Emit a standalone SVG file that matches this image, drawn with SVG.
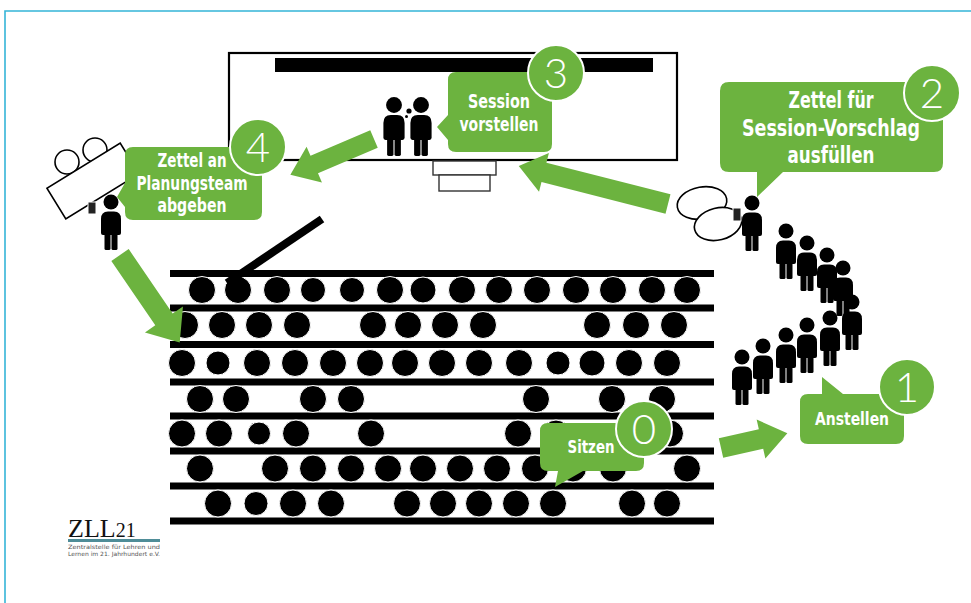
<svg xmlns="http://www.w3.org/2000/svg" xmlns:xlink="http://www.w3.org/1999/xlink" width="971" height="603" viewBox="0 0 971 603">
  <style>
    .bar { fill: #000; }
    .seat { fill: #000; stroke: #fff; stroke-width: 1; }
    .outline { fill: #fff; stroke: #000; stroke-width: 1.6; }
    .arrow { fill: #6cb33f; }
    .bubble { fill: #6cb33f; }
    .label { fill: #fff; font-family: 'Liberation Sans Narrow', 'DejaVu Sans Condensed', sans-serif; font-weight: bold; font-stretch: condensed; text-anchor: middle; }
    .badge { fill: #6cb33f; stroke: #fff; stroke-width: 2; }
    .num { fill: #fff; font-family: Lato, 'Open Sans', 'DejaVu Sans', sans-serif; font-weight: 300; font-size: 42px; text-anchor: middle; }
    .paper { fill: #222; stroke: #fff; stroke-width: 1; }
  </style>
  <defs>
    <!-- standing person, head centre at origin, feet at y=48 -->
    <g id="person">
      <circle cx="0" cy="0" r="7.5"/>
      <path d="M-10,31 V17 Q-10,9.5 -3,9.5 H3 Q10,9.5 10,17 V31 Q10,33 8,33 H-8 Q-10,33 -10,31 Z"/>
      <rect x="-6.5" y="29" width="6" height="19" rx="1.5"/>
      <rect x="0.5" y="29" width="6" height="19" rx="1.5"/>
    </g>
  </defs>

  <rect width="971" height="603" fill="#fff"/>
  <!-- frame -->
  <path d="M5,603 V11 H971" fill="none" stroke="#35b5d8" stroke-width="1.6"/>

  <!-- stage -->
  <g id="stage">
    <rect x="229" y="53" width="448" height="107" fill="#fff" stroke="#000" stroke-width="2.2"/>
    <rect x="275" y="58" width="378" height="14" fill="#000"/>
    <rect x="433" y="161" width="63" height="14" fill="#fff" stroke="#333" stroke-width="1.4"/>
    <rect x="439" y="175" width="51" height="16" fill="#fff" stroke="#333" stroke-width="1.4"/>
  </g>

  <!-- seating rows -->
  <g id="seating">
    <rect class="bar" x="170" y="270" width="544" height="7"/>
    <rect class="bar" x="170" y="304.5" width="544" height="7"/>
    <rect class="bar" x="170" y="341" width="544" height="7"/>
    <rect class="bar" x="170" y="378.5" width="544" height="7"/>
    <rect class="bar" x="170" y="412.5" width="544" height="7"/>
    <rect class="bar" x="170" y="447.5" width="544" height="7"/>
    <rect class="bar" x="170" y="482.5" width="544" height="7"/>
    <rect class="bar" x="170" y="517.5" width="544" height="7"/>
    <!-- row 1 -->
    <g class="seat">
      <circle cx="202" cy="290" r="13.5"/><circle cx="238" cy="290" r="13.5"/><circle cx="277" cy="290" r="13.5"/>
      <circle cx="313" cy="290" r="12.5"/><circle cx="352" cy="290" r="12.5"/><circle cx="390" cy="290" r="13.5"/>
      <circle cx="423" cy="290" r="13"/><circle cx="462" cy="290" r="13.5"/><circle cx="499" cy="290" r="13.5"/>
      <circle cx="537" cy="290" r="13.5"/><circle cx="576" cy="290" r="13.5"/><circle cx="613" cy="290" r="13.5"/>
      <circle cx="652" cy="290" r="13.5"/><circle cx="687" cy="290" r="13.5"/>
    </g>
    <!-- row 2 -->
    <g class="seat">
      <circle cx="185" cy="325" r="13.5"/><circle cx="222" cy="325" r="13.5"/><circle cx="259" cy="325" r="13.5"/>
      <circle cx="297" cy="325" r="13.5"/><circle cx="373" cy="325" r="13.5"/><circle cx="408" cy="325" r="13.5"/>
      <circle cx="445" cy="325" r="13.5"/><circle cx="483" cy="325" r="13.5"/><circle cx="597" cy="325" r="13.5"/>
      <circle cx="636" cy="325" r="13.5"/><circle cx="674" cy="325" r="13.5"/>
    </g>
    <!-- row 3 -->
    <g class="seat">
      <circle cx="182" cy="363" r="13.5"/><circle cx="218" cy="363" r="12"/><circle cx="257" cy="363" r="13.5"/>
      <circle cx="295" cy="363" r="13.5"/><circle cx="333" cy="363" r="13.5"/><circle cx="370" cy="363" r="13.5"/>
      <circle cx="405" cy="363" r="13.5"/><circle cx="442" cy="363" r="13.5"/><circle cx="479" cy="363" r="13.5"/>
      <circle cx="519" cy="363" r="13.5"/><circle cx="558" cy="363" r="12"/><circle cx="592" cy="363" r="13"/>
      <circle cx="629" cy="363" r="13.5"/><circle cx="667" cy="363" r="13.5"/>
    </g>
    <!-- row 4 -->
    <g class="seat">
      <circle cx="200" cy="399" r="13.5"/><circle cx="236" cy="399" r="13.5"/><circle cx="313" cy="399" r="13.5"/>
      <circle cx="351" cy="399" r="13.5"/><circle cx="536" cy="399" r="13.5"/><circle cx="612" cy="399" r="13.5"/>
      <circle cx="662" cy="399" r="13.5"/>
    </g>
    <!-- row 5 -->
    <g class="seat">
      <circle cx="182" cy="433.5" r="13.5"/><circle cx="219" cy="433.5" r="13.5"/><circle cx="259" cy="433.5" r="11.5"/>
      <circle cx="296" cy="433.5" r="13.5"/><circle cx="371" cy="433.5" r="13.5"/><circle cx="518" cy="433.5" r="13.5"/>
      <circle cx="556" cy="433.5" r="13.5"/><circle cx="670" cy="433.5" r="13.5"/>
    </g>
    <!-- row 6 -->
    <g class="seat">
      <circle cx="200" cy="468.5" r="13.5"/><circle cx="275" cy="468.5" r="13.5"/><circle cx="313" cy="468.5" r="13.5"/>
      <circle cx="351" cy="468.5" r="13.5"/><circle cx="388" cy="468.5" r="13.5"/><circle cx="423" cy="468.5" r="13.5"/>
      <circle cx="460" cy="468.5" r="13.5"/><circle cx="497" cy="468.5" r="13.5"/><circle cx="535" cy="468.5" r="13.5"/>
      <circle cx="573" cy="468.5" r="13.5"/><circle cx="613" cy="468.5" r="13.5"/><circle cx="687" cy="468.5" r="13.5"/>
    </g>
    <!-- row 7 -->
    <g class="seat">
      <circle cx="218" cy="503.5" r="13.5"/><circle cx="256" cy="503.5" r="12"/><circle cx="293" cy="503.5" r="13.5"/>
      <circle cx="331" cy="503.5" r="13.5"/><circle cx="407" cy="503.5" r="13.5"/><circle cx="443" cy="503.5" r="13.5"/>
      <circle cx="479" cy="503.5" r="13.5"/><circle cx="516" cy="503.5" r="13.5"/><circle cx="553" cy="503.5" r="13.5"/>
      <circle cx="632" cy="503.5" r="13.5"/><circle cx="667" cy="503.5" r="13.5"/>
    </g>
    <!-- slanted stroke into the first row -->
    <line x1="227" y1="283" x2="322" y2="219" stroke="#000" stroke-width="8"/>
  </g>

  <!-- planning team table -->
  <g id="planning-table">
    <circle class="outline" cx="67" cy="162" r="12"/>
    <circle class="outline" cx="95" cy="150" r="12"/>
    <rect class="outline" x="-43" y="-18" width="86" height="36" transform="translate(93,181) rotate(-31.6)"/>
  </g>

  <!-- writing desk -->
  <g id="writing-desk">
    <ellipse class="outline" cx="702" cy="203" rx="25" ry="16" transform="rotate(-10 702 203)"/>
    <ellipse class="outline" cx="718" cy="224" rx="24" ry="16" transform="rotate(-14 718 224)"/>
  </g>

  <!-- flow arrows -->
  <g id="connectors">
    <polygon class="arrow" points="0,-10 41,-10 41,-20 68,0 41,20 41,10 0,10" transform="translate(721,448) rotate(-12.6)"/>
    <polygon class="arrow" points="0,-10 128,-10 128,-20 154,0 128,20 128,10 0,10" transform="translate(668,204) rotate(194.3)"/>
    <polygon class="arrow" points="0,-9.5 65,-9.5 65,-19.5 91,0 65,19.5 65,9.5 0,9.5" transform="translate(374,139) rotate(156.8)"/>
    <polygon class="arrow" points="0,-10.5 78,-10.5 78,-23 106,0 78,23 78,10.5 0,10.5" transform="translate(120,255) rotate(55.7)"/>
  </g>

  <!-- people -->
  <g id="speakers">
    <use xlink:href="#person" transform="translate(394,105) scale(1.06)"/>
    <use xlink:href="#person" transform="translate(421,105) scale(1.06)"/>
    <circle cx="409" cy="111" r="2.6" fill="#000"/>
    <circle cx="406.5" cy="116.5" r="1.5" fill="#000"/>
  </g>
  <g id="planner">
    <use xlink:href="#person" transform="translate(111,202)"/>
    <rect class="paper" x="88" y="202" width="8" height="12"/>
  </g>
  <g id="writer">
    <use xlink:href="#person" transform="translate(752,203)"/>
    <rect class="paper" x="733" y="208" width="8" height="13"/>
  </g>
  <g id="queue">
    <use xlink:href="#person" transform="translate(786,231)"/>
    <use xlink:href="#person" transform="translate(807,243)"/>
    <use xlink:href="#person" transform="translate(827,255)"/>
    <use xlink:href="#person" transform="translate(843,268)"/>
    <use xlink:href="#person" transform="translate(852,302)"/>
    <use xlink:href="#person" transform="translate(830,318)"/>
    <use xlink:href="#person" transform="translate(807,325)"/>
    <use xlink:href="#person" transform="translate(786,335)"/>
    <use xlink:href="#person" transform="translate(763,346)"/>
    <use xlink:href="#person" transform="translate(742,357)"/>
  </g>

  <!-- step 0: Sitzen -->
  <g id="step0">
    <path class="bubble" d="M548,423 H636 Q644,423 644,431 V463 Q644,471 636,471 H583 L555,487 L558,471 H548 Q540,471 540,463 V431 Q540,423 548,423 Z"/>
    <text class="label" x="591" y="453" font-size="17" textLength="47" lengthAdjust="spacingAndGlyphs">Sitzen</text>
    <circle class="badge" cx="644" cy="429" r="28"/>
    <text class="num" x="644" y="444">0</text>
  </g>

  <!-- step 1: Anstellen -->
  <g id="step1">
    <path class="bubble" d="M808,394 H822 V377 L843,394 H896 Q904,394 904,402 V436 Q904,444 896,444 H808 Q800,444 800,436 V402 Q800,394 808,394 Z"/>
    <text class="label" x="852" y="425" font-size="18" textLength="74" lengthAdjust="spacingAndGlyphs">Anstellen</text>
    <circle class="badge" cx="907" cy="387" r="28"/>
    <text class="num" x="907" y="402">1</text>
  </g>

  <!-- step 2: Zettel für Session-Vorschlag ausfüllen -->
  <g id="step2">
    <path class="bubble" d="M729,82 H934 Q943,82 943,91 V163 Q943,172 934,172 H783 L757,197 V172 H729 Q720,172 720,163 V91 Q720,82 729,82 Z"/>
    <text class="label" x="831" y="108" font-size="23" textLength="85" lengthAdjust="spacingAndGlyphs">Zettel für</text>
    <text class="label" x="831" y="136" font-size="23" textLength="178" lengthAdjust="spacingAndGlyphs">Session-Vorschlag</text>
    <text class="label" x="831" y="163" font-size="23" textLength="87" lengthAdjust="spacingAndGlyphs">ausfüllen</text>
    <circle class="badge" cx="932" cy="93" r="28"/>
    <text class="num" x="932" y="108">2</text>
  </g>

  <!-- step 3: Session vorstellen -->
  <g id="step3">
    <path class="bubble" d="M456,72 H544 Q552,72 552,80 V144 Q552,152 544,152 H456 Q448,152 448,144 V140 L437,127 L448,115 V80 Q448,72 456,72 Z"/>
    <text class="label" x="499" y="108" font-size="20" textLength="62" lengthAdjust="spacingAndGlyphs">Session</text>
    <text class="label" x="499" y="131" font-size="20" textLength="79" lengthAdjust="spacingAndGlyphs">vorstellen</text>
    <circle class="badge" cx="556" cy="73" r="28"/>
    <text class="num" x="556" y="88">3</text>
  </g>

  <!-- step 4: Zettel an Planungsteam abgeben -->
  <g id="step4">
    <path class="bubble" d="M133,147 H254 Q262,147 262,155 V212 Q262,220 254,220 H133 Q125,220 125,212 V207 L117,197 L125,183 V155 Q125,147 133,147 Z"/>
    <text class="label" x="192" y="167" font-size="19.5" textLength="69" lengthAdjust="spacingAndGlyphs">Zettel an</text>
    <text class="label" x="192" y="190" font-size="19.5" textLength="111" lengthAdjust="spacingAndGlyphs">Planungsteam</text>
    <text class="label" x="192" y="212" font-size="19.5" textLength="69" lengthAdjust="spacingAndGlyphs">abgeben</text>
    <circle class="badge" cx="258" cy="147" r="28"/>
    <text class="num" x="258" y="162">4</text>
  </g>

  <!-- association logo -->
  <g id="logo">
    <text x="68" y="537" font-family="'Liberation Serif', serif" font-size="26" fill="#111">ZLL<tspan font-size="20">21</tspan></text>
    <rect x="68" y="539" width="92" height="3" fill="#4f8d98"/>
    <text x="68" y="549" font-family="'Liberation Sans Narrow', 'DejaVu Sans Condensed', sans-serif" font-size="5.8" fill="#555" textLength="92" lengthAdjust="spacingAndGlyphs">Zentralstelle für Lehren und</text>
    <text x="68" y="555.5" font-family="'Liberation Sans Narrow', 'DejaVu Sans Condensed', sans-serif" font-size="5.8" fill="#555" textLength="92" lengthAdjust="spacingAndGlyphs">Lernen im 21. Jahrhundert e.V.</text>
  </g>
</svg>
